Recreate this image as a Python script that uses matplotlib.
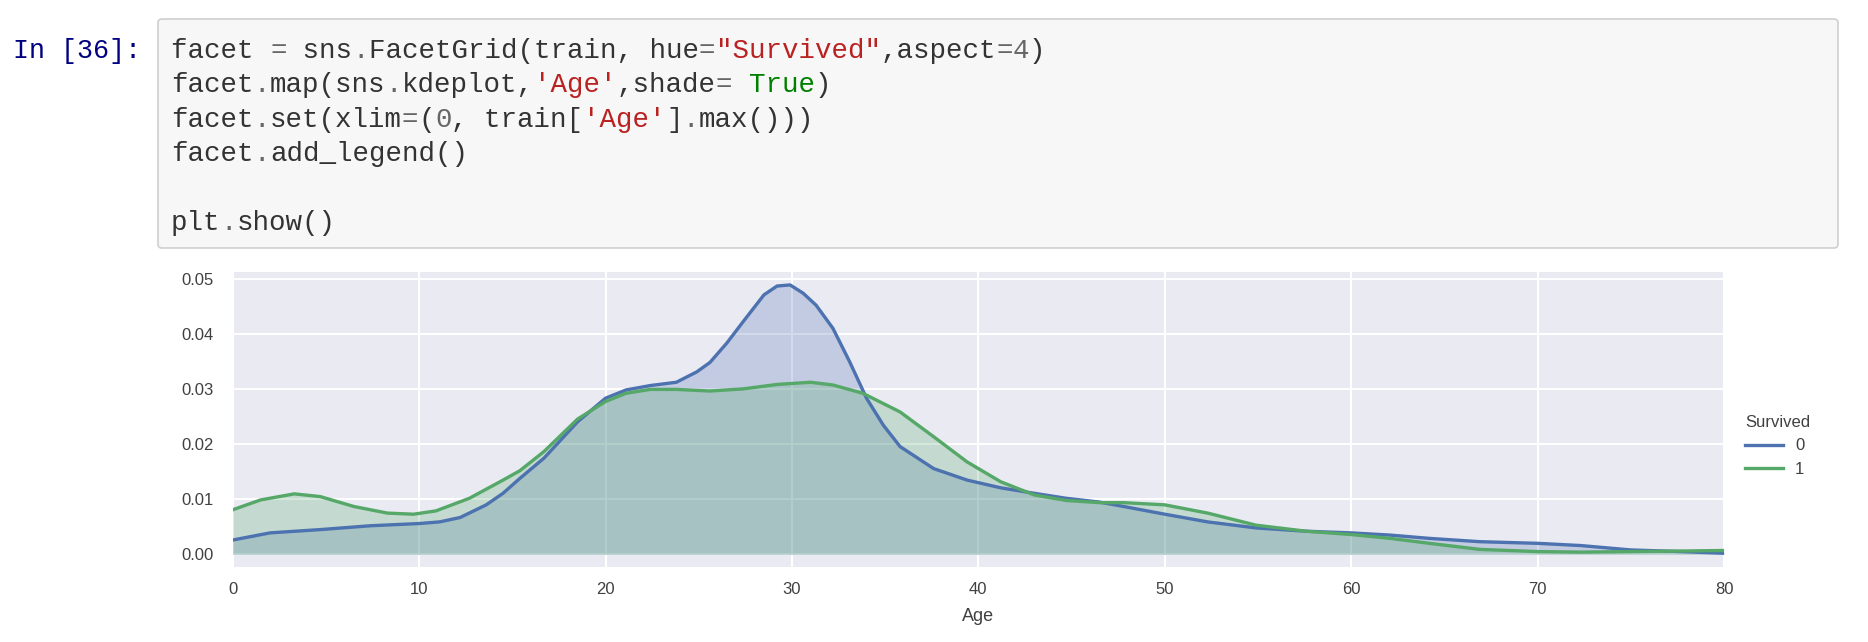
import matplotlib
matplotlib.use("Agg")
import matplotlib.pyplot as plt
from matplotlib.patches import FancyBboxPatch

# KDE curves (age, density)
age_died = [0, 2, 4.7, 7.4, 10, 11.1, 12.2, 13.6, 14.5, 15.4, 16.7, 18.5, 20, 21.1,
            22.4, 23.8, 24.9, 25.6, 26.5, 27.4, 28.5, 29.2, 29.9, 30.6, 31.3, 32.2,
            33.1, 34.0, 34.9, 35.8, 37.6, 39.4, 41.2, 43.0, 44.7, 46.5, 47.8, 50,
            52.3, 54.9, 57.6, 60, 62.1, 64.2, 66.9, 70, 72.3, 75, 77.7, 80]
dens_died = [0.0026, 0.0039, 0.0045, 0.0052, 0.0056, 0.0059, 0.0067, 0.0090, 0.0111,
             0.0138, 0.0175, 0.0241, 0.0284, 0.0299, 0.0307, 0.0313, 0.0332, 0.0349,
             0.0384, 0.0424, 0.0472, 0.0488, 0.0490, 0.0475, 0.0453, 0.0411, 0.0350,
             0.0284, 0.0235, 0.0196, 0.0156, 0.0135, 0.0121, 0.0111, 0.0102, 0.0095,
             0.0087, 0.0073, 0.0059, 0.0048, 0.0042, 0.0039, 0.0035, 0.0029, 0.0023,
             0.0020, 0.0016, 0.0008, 0.0005, 0.0002]

age_surv = [0, 1.5, 3.3, 4.7, 6.5, 8.3, 9.7, 10.9, 12.7, 14.5, 15.4, 16.7, 18.5, 20,
            21.1, 22.4, 23.8, 25.6, 27.4, 29.2, 31, 32.2, 33.8, 35.8, 37.6, 39.4,
            41.2, 43.0, 44.7, 46.5, 47.8, 50, 52.3, 54.9, 57.6, 60, 62.1, 64.2, 66.9,
            70, 72.3, 75, 77.7, 80]
dens_surv = [0.0081, 0.0099, 0.0110, 0.0105, 0.0087, 0.0075, 0.0073, 0.0079, 0.0102,
             0.0135, 0.0152, 0.0187, 0.0246, 0.0278, 0.0293, 0.0300, 0.0300, 0.0297,
             0.0301, 0.0309, 0.0313, 0.0308, 0.0293, 0.0259, 0.0214, 0.0168, 0.0132,
             0.0108, 0.0098, 0.0094, 0.0094, 0.0090, 0.0075, 0.0053, 0.0042, 0.0036,
             0.0029, 0.0020, 0.0009, 0.0005, 0.0004, 0.0005, 0.0006, 0.0007]

hue_labels = ["0", "1"]
x_ticks = [0, 10, 20, 30, 40, 50, 60, 70, 80]
y_ticks = [0.00, 0.01, 0.02, 0.03, 0.04, 0.05]

BLUE = "#4C72B0"
GREEN = "#55A868"
STR = "#BA2121"
KW = "#008000"
OP = "#666666"
TXT = "#333333"

# code cell, split into coloured pieces
code_lines = [
    [("facet ", TXT), ("=", OP), (" sns", TXT), (".", OP), ("FacetGrid(train, hue", TXT),
     ("=", OP), ('"Survived"', STR), (",aspect", TXT), ("=", OP), ("4", OP), (")", TXT)],
    [("facet", TXT), (".", OP), ("map(sns", TXT), (".", OP), ("kdeplot,", TXT),
     ("'Age'", STR), (",shade", TXT), ("=", OP), (" ", TXT), ("True", KW), (")", TXT)],
    [("facet", TXT), (".", OP), ("set(xlim", TXT), ("=", OP), ("(", TXT), ("0", OP),
     (", train[", TXT), ("'Age'", STR), ("]", TXT), (".", OP), ("max()))", TXT)],
    [("facet", TXT), (".", OP), ("add_legend()", TXT)],
    [],
    [("plt", TXT), (".", OP), ("show()", TXT)],
]

W, H = 1868, 642
fig = plt.figure(figsize=(W / 100, H / 100), dpi=100)
inch = fig.dpi_scale_trans

box = FancyBboxPatch((158 / 100, (H - 248) / 100), 1680 / 100, 229 / 100,
                     boxstyle="round,pad=0,rounding_size=0.04",
                     facecolor="#F7F7F7", edgecolor="#CFCFCF", linewidth=1.2,
                     transform=inch, zorder=0)
fig.patches.append(box)

mono = "Liberation Mono"
fsize = 19.8
cw = 16.5  # pixel width of one character
fig.text(13 / 100, (H - 58) / 100, "In [36]:", color="#000080", family=mono,
         fontsize=19.3, va="baseline", transform=inch)
for i, pieces in enumerate(code_lines):
    col = 0
    ypx = 58 + i * 34.4
    for s, c in pieces:
        fig.text((171 + col * cw) / 100, (H - ypx) / 100, s, color=c, family=mono,
                 fontsize=fsize, va="baseline", transform=inch)
        col += len(s)

# the kde plot
ax = fig.add_axes([232.7 / W, 1 - 566.7 / H, (1724 - 232.7) / W, (566.7 - 272.3) / H])
ax.set_facecolor("#EAEAF2")
for sp in ax.spines.values():
    sp.set_visible(False)
ax.grid(True, color="white", linewidth=1.5)
ax.set_axisbelow(True)

ax.fill_between(age_died, dens_died, color=BLUE, alpha=0.25, linewidth=0)
ax.plot(age_died, dens_died, color=BLUE, linewidth=2.4, label=hue_labels[0])
ax.fill_between(age_surv, dens_surv, color=GREEN, alpha=0.25, linewidth=0)
ax.plot(age_surv, dens_surv, color=GREEN, linewidth=2.4, label=hue_labels[1])

ax.set_xlim(0, 80)
ax.set_ylim(-0.00225, 0.0513)
ax.set_xticks(x_ticks)
ax.set_yticks(y_ticks)
ax.set_yticklabels(["%.2f" % v for v in y_ticks])
ax.tick_params(length=0, labelsize=12, labelcolor="#404040", pad=11)
ax.tick_params(axis="y", pad=14)
for lab in ax.get_xticklabels() + ax.get_yticklabels():
    lab.set_family("Liberation Sans")
ax.set_xlabel("Age", fontsize=13, color="#404040", family="Liberation Sans", labelpad=8)

leg = fig.legend(title="Survived", loc="center left",
                 bbox_to_anchor=(1730 / W, 1 - 446 / H), frameon=False,
                 prop={"family": "Liberation Sans", "size": 12},
                 title_fontproperties={"family": "Liberation Sans", "size": 12},
                 handlelength=2.3, handletextpad=0.7, labelspacing=0.5)
leg._legend_box.align = "left"
leg.get_title().set_color("#404040")
for t in leg.get_texts():
    t.set_color("#404040")

fig.savefig("out.png", dpi=100)
